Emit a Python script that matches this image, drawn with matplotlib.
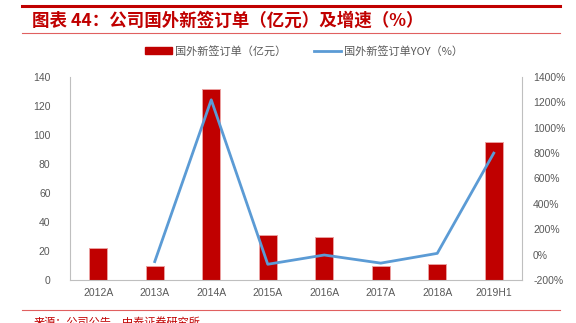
import numpy as np
import matplotlib.pyplot as plt
from matplotlib.patches import Patch
from matplotlib.lines import Line2D

plt.rcParams['font.family'] = ['Noto Sans CJK SC', 'DejaVu Sans']

#--- data
years  = ['2012A', '2013A', '2014A', '2015A', '2016A', '2017A', '2018A', '2019H1']
orders = [22, 10, 132, 31, 30, 10, 11, 95]          # 国外新签订单 (亿元)
yoy    = [np.nan, -55, 1220, -76, -3, -67, 10, 800]  # 增速 (%)

red  = '#C00000'
blue = '#5B9BD5'
grey = '#595959'
W, H = 576, 323

fig = plt.figure(figsize=(W/100, H/100), dpi=100)

# header lines + title
fig.add_artist(Line2D([22/W, 560/W], [1-6/H, 1-6/H], color=red, lw=2.2))
fig.add_artist(Line2D([22/W, 560/W], [1-33/H, 1-33/H], color='#E06060', lw=0.8))
fig.text(32/W, 1-21/H, '图表 44：公司国外新签订单（亿元）及增速（%）',
         color=red, fontsize=12.6, fontweight='bold', va='center', ha='left')

# footer (cut at the bottom edge, as in the source)
fig.add_artist(Line2D([22/W, 560/W], [1-310/H, 1-310/H], color='#E06060', lw=0.8))
fig.text(34/W, 1-317/H, '来源：公司公告，中泰证券研究所', color=red, fontsize=8,
         va='top', ha='left')

ax = fig.add_axes([70/W, 1-280/H, 452/W, 203/H])
x = np.arange(len(years))
ax.bar(x, orders, width=0.31, color=red, edgecolor='#EBA0A0', linewidth=0.7, zorder=2)
ax.set_xlim(-0.5, len(years)-0.5)
ax.set_ylim(0, 140)
ax.set_yticks(np.arange(0, 141, 20))
ax.set_xticks(x)
ax.set_xticklabels(years)

ax2 = ax.twinx()
ax2.plot(x, yoy, color=blue, lw=2.0, zorder=3)
ax2.set_ylim(-200, 1400)
ax2.set_yticks(np.arange(-200, 1401, 200))
ax2.set_yticklabels(['%d%%' % v for v in range(-200, 1401, 200)])

for a in (ax, ax2):
    a.tick_params(length=0, labelsize=7.5, colors=grey)
    for s in a.spines.values():
        s.set_visible(False)
ax.spines['left'].set_visible(True)
ax.spines['bottom'].set_visible(True)
ax2.spines['right'].set_visible(True)
for s in ('left', 'bottom'):
    ax.spines[s].set_color('#BFBFBF')
ax2.spines['right'].set_color('#BFBFBF')
ax.tick_params(axis='x', pad=6)
ax.tick_params(axis='y', pad=14)
ax2.tick_params(axis='y', pad=8)
for lab in ax.get_xticklabels() + ax.get_yticklabels() + ax2.get_yticklabels():
    lab.set_family(['Liberation Sans', 'DejaVu Sans'])

handles = [Patch(facecolor=red, edgecolor=red),
           Line2D([0], [0], color=blue, lw=2.0)]
labels = ['国外新签订单（亿元）', '国外新签订单YOY（%）']
fig.legend(handles, labels, loc='center', bbox_to_anchor=(304/W, 1-51/H),
           ncol=2, frameon=False, fontsize=8, handlelength=2.4, handleheight=0.6,
           handletextpad=0.3, columnspacing=2.5, labelcolor=grey)

fig.savefig('out.png', dpi=100)
